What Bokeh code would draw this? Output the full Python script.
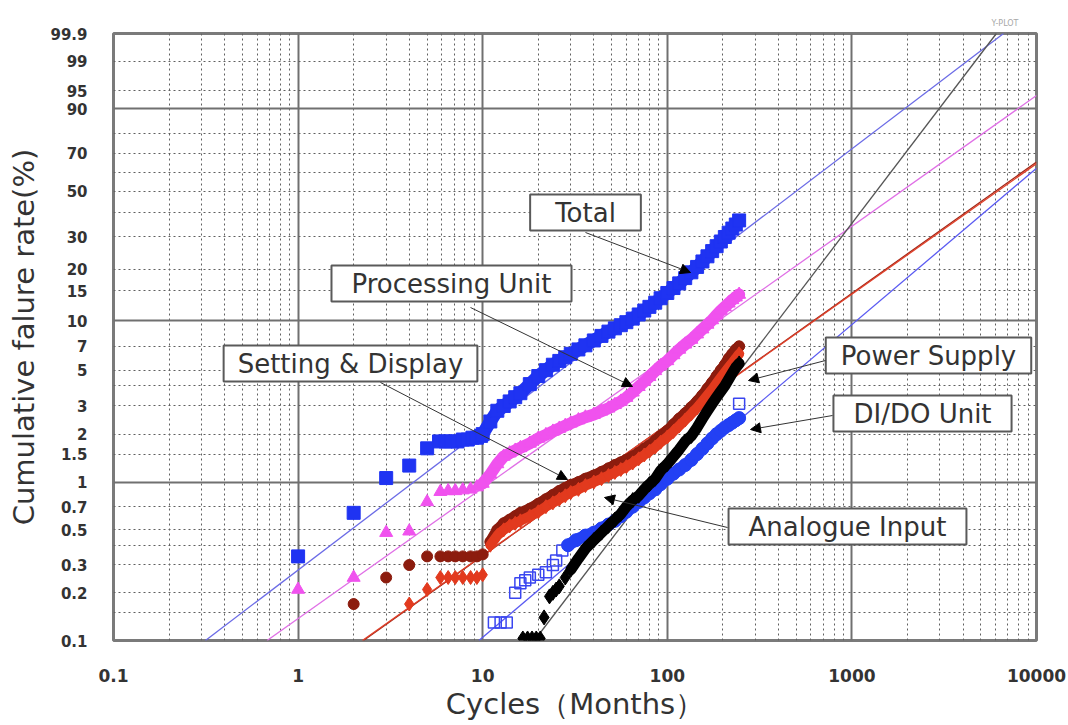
import numpy as np
from bokeh.plotting import figure
from bokeh.models import Range1d, FixedTicker, CustomJSTickFormatter, Grid, Label, Arrow, NormalHead
from bokeh.embed import file_html
from bokeh.resources import INLINE

# ---------------- data: cycles (months) and cumulative failure rate (%) ----------------
total_months = [1, 2, 3, 4, 5, 5.8, 6.3, 6.8, 7.3, 7.8, 8.3, 8.8, 9.3, 9.8, 10, 11, 12, 13, 14, 15, 16,
                18, 20, 22, 24, 26, 28, 30, 33, 36, 40, 44, 48, 52, 56, 60, 65, 70, 75, 80, 86, 92, 100,
                108, 116, 125, 135, 145, 155, 165, 175, 185, 195, 205, 215, 225, 235, 245]
total_pct = [0.34, 0.64, 1.06, 1.27, 1.63, 1.8, 1.8, 1.8, 1.8, 1.85, 1.85, 1.9, 1.9, 1.95, 2.0, 2.4, 2.8, 3.0, 3.2, 3.4, 3.6,
             4.1, 4.6, 5.0, 5.4, 5.7, 6.0, 6.3, 6.7, 7.1, 7.6, 8.1, 8.6, 9.0, 9.4, 9.8, 10.3, 10.9, 11.5, 12.1, 12.8, 13.6, 14.6,
             15.6, 16.6, 17.8, 19.2, 20.6, 22.1, 23.6, 25.2, 26.8, 28.4, 30.0, 31.6, 33.2, 34.8, 36.5]

proc_months = [1, 2, 3, 4, 5, 5.9, 6.5, 7.1, 7.8, 8.6, 9.3, 10, 11, 12, 13, 14, 15, 16,
               18, 20, 22, 24, 26, 28, 30, 33, 36, 40, 44, 48, 52, 56, 60, 65, 70, 75, 80, 86, 92, 100,
               108, 116, 125, 135, 145, 155, 165, 175, 185, 195, 205, 215, 225, 235, 245]
proc_pct = [0.21, 0.25, 0.48, 0.49, 0.75, 0.87, 0.88, 0.88, 0.89, 0.9, 0.93, 0.98, 1.12, 1.3, 1.45, 1.52, 1.58, 1.64,
            1.75, 1.88, 1.98, 2.08, 2.17, 2.26, 2.34, 2.45, 2.55, 2.65, 2.78, 2.9, 3.05, 3.2, 3.38,
            3.65, 3.95, 4.25, 4.55, 4.95, 5.3, 5.7, 6.2, 6.7, 7.2, 7.7, 8.3, 8.9, 9.5, 10.1, 10.8, 11.5,
            12.1, 12.7, 13.3, 13.8, 14.3]

setdisp_months = [2, 3, 4, 5, 5.9, 6.5, 7.1, 7.8, 8.6, 9.3, 10, 11, 12, 13, 14, 15, 16,
                  18, 20, 22, 24, 26, 28, 30, 33, 36, 40, 44, 48, 52, 56, 60, 65, 70, 75, 80, 86, 92, 100,
                  108, 116, 125, 135, 145, 155, 165, 175, 185, 195, 205, 215, 225, 235, 245]
setdisp_pct = [0.17, 0.25, 0.30, 0.34, 0.34, 0.34, 0.34, 0.34, 0.34, 0.34, 0.35, 0.42, 0.5, 0.55, 0.58, 0.61, 0.64,
               0.68, 0.73, 0.78, 0.83, 0.88, 0.92, 0.96, 1.0, 1.05, 1.1, 1.16, 1.22, 1.28, 1.33, 1.38,
               1.45, 1.53, 1.62, 1.7, 1.82, 1.95, 2.1, 2.3, 2.5, 2.7, 2.95, 3.2, 3.5, 3.85, 4.2, 4.6, 5.0,
               5.4, 5.9, 6.3, 6.7, 7.0]

analog_months = [4, 5, 5.9, 6.5, 7.1, 7.8, 8.6, 9.3, 10, 11, 12, 13, 14, 15, 16,
                 18, 20, 22, 24, 26, 28, 30, 33, 36, 40, 44, 48, 52, 56, 60, 65, 70, 75, 80, 86, 92, 100,
                 108, 116, 125, 135, 145, 155, 165, 175, 185, 195, 205, 215, 225, 235, 245]
analog_pct = [0.17, 0.21, 0.25, 0.25, 0.25, 0.25, 0.25, 0.25, 0.26, 0.4, 0.46, 0.5, 0.53, 0.55, 0.57,
              0.61, 0.65, 0.7, 0.74, 0.78, 0.82, 0.86, 0.9, 0.95, 1.0, 1.05, 1.1, 1.15, 1.2, 1.25,
              1.32, 1.4, 1.48, 1.56, 1.66, 1.78, 1.92, 2.08, 2.25, 2.45, 2.68, 2.92, 3.2, 3.5, 3.8, 4.15, 4.5,
              4.85, 5.2, 5.55, 5.9, 6.3]

power_months = [16.5, 17.5, 18.5, 19.5, 20.5, 21.5, 23, 24, 25, 26, 28, 30, 33, 36, 40, 44, 48, 52, 56, 60,
                65, 70, 75, 80, 86, 92, 100, 108, 116, 125, 135, 145, 155, 165, 175, 185, 195,
                205, 215, 225, 235, 245]
power_pct = [0.103, 0.103, 0.103, 0.103, 0.103, 0.14, 0.19, 0.2, 0.21, 0.22, 0.25, 0.28, 0.33, 0.38, 0.43, 0.48,
             0.53, 0.58, 0.63, 0.7, 0.77, 0.82, 0.9, 0.97, 1.05, 1.18, 1.3, 1.45, 1.6, 1.8, 1.95, 2.2, 2.5,
             2.8, 3.1, 3.4, 3.7, 4.0, 4.4, 4.8, 5.2, 5.5]

dido_open_months = [11.5, 12.5, 13.5, 15, 16, 17, 18, 20, 22, 24, 25, 27, 245]
dido_open_pct = [0.13, 0.13, 0.13, 0.2, 0.23, 0.24, 0.25, 0.26, 0.27, 0.3, 0.32, 0.37, 3.1]
dido_months = [29, 32, 36, 40, 44, 48, 52, 56, 60, 65, 70, 75, 80, 86, 92, 100,
               108, 116, 125, 135, 145, 155, 165, 175, 185, 195, 205, 215, 225, 235, 245]
dido_pct = [0.4, 0.43, 0.46, 0.48, 0.51, 0.54, 0.57, 0.61, 0.65, 0.7, 0.75, 0.8, 0.85, 0.9, 0.97, 1.05,
            1.13, 1.2, 1.28, 1.38, 1.5, 1.62, 1.75, 1.88, 2.0, 2.1, 2.2, 2.28, 2.36, 2.44, 2.52]

# Weibull fit lines (shape beta, scale eta in months)
fit_names = ["Total", "Processing Unit", "Setting & Display", "Analogue Input", "Power Supply", "DI/DO Unit"]
fit_beta = [0.888, 0.827, 0.830, 0.826, 1.534, 0.989]
fit_eta = [752, 2880, 9300, 9550, 1720, 10300]

# axis ticks
x_ticks = [0.1, 1, 10, 100, 1000, 10000]
y_tick_pct = [0.1, 0.2, 0.3, 0.5, 0.7, 1, 1.5, 2, 3, 5, 7, 10, 15, 20, 30, 50, 70, 90, 95, 99, 99.9]
y_major_grid_pct = [1, 10, 90]
y_minor_grid_pct = [0.15, 0.2, 0.3, 0.4, 0.5, 0.7, 1.5, 2, 3, 4, 5, 7, 15, 20, 30, 40, 50, 60, 70, 80, 95, 99]


def weib(pct):
    return np.log(-np.log(1.0 - np.asarray(pct, dtype=float) / 100.0))


W_MIN = float(weib(0.1))
W_MAX = float(weib(99.9))

# frame geometry (pixels) used only for annotation placement
FL, FR, FT, FB = 113, 1036, 33, 640


def sx(px):
    return 10 ** (-1 + 5.0 * (px - FL) / (FR - FL))


def sy(py):
    return W_MAX - (py - FT) / (FB - FT) * (W_MAX - W_MIN)


p = figure(width=1068, height=725, x_axis_type="log",
           x_range=Range1d(0.1, 10000), y_range=Range1d(W_MIN, W_MAX),
           output_backend="svg", toolbar_location=None,
           min_border_left=FL, min_border_right=1068 - FR,
           min_border_top=FT, min_border_bottom=725 - FB,
           background_fill_color="white", border_fill_color="white")

p.title.text = "Y-PLOT"
p.title.align = "right"
p.title.offset = 18
p.title.standoff = 12
p.title.text_font = "DejaVu Sans"
p.title.text_font_size = "8px"
p.title.text_font_style = "normal"
p.title.text_color = "#a8a8a8"

p.outline_line_color = "#7a7a7a"
p.outline_line_width = 3

# x axis
x_minor = [m * 10.0 ** k for k in range(-1, 4) for m in range(2, 10)]
p.xaxis.ticker = FixedTicker(ticks=x_ticks, minor_ticks=x_minor)
p.xaxis.formatter = CustomJSTickFormatter(code="return tick < 1 ? tick.toFixed(1) : tick.toFixed(0);")
p.xgrid.ticker = p.xaxis[0].ticker
p.xgrid.grid_line_color = "#707070"
p.xgrid.grid_line_width = 2
p.xgrid.minor_grid_line_color = "#606060"
p.xgrid.minor_grid_line_dash = "2 3"
p.xgrid.minor_grid_line_width = 1

# y axis (Weibull scale)
p.yaxis.ticker = FixedTicker(ticks=[float(v) for v in weib(y_tick_pct)])
p.yaxis.formatter = CustomJSTickFormatter(
    code="const F = (1 - Math.exp(-Math.exp(tick))) * 100; return String(Math.round(F * 10) / 10);")
p.ygrid.visible = False
p.add_layout(Grid(dimension=1, ticker=FixedTicker(ticks=[float(v) for v in weib(y_major_grid_pct)]),
                  grid_line_color="#707070", grid_line_width=2))
p.add_layout(Grid(dimension=1, ticker=FixedTicker(ticks=[float(v) for v in weib(y_minor_grid_pct)]),
                  grid_line_color="#606060", grid_line_dash="2 3", grid_line_width=1))

for ax in (p.xaxis, p.yaxis):
    ax.axis_line_color = None
    ax.major_tick_line_color = None
    ax.minor_tick_line_color = None
    ax.major_label_text_font = "DejaVu Sans"
    ax.major_label_text_font_style = "bold"
    ax.major_label_text_color = "#333333"
    ax.axis_label_text_font = "DejaVu Sans"
    ax.axis_label_text_font_style = "normal"
    ax.axis_label_text_color = "#333333"

p.xaxis.major_label_text_font_size = "17px"
p.yaxis.major_label_text_font_size = "15px"
p.xaxis.major_label_standoff = 22
p.yaxis.major_label_standoff = 20
p.xaxis.axis_label = "Cycles（Months）"
p.yaxis.axis_label = "Cumulative falure rate(%)"
p.xaxis.axis_label_text_font_size = "29px"
p.yaxis.axis_label_text_font_size = "29px"
p.xaxis.axis_label_standoff = 2
p.yaxis.axis_label_standoff = 6

# fit lines
fit_colors = ["#6b6be6", "#e070e6", "#a02818", "#e0402a", "#555555", "#5a5af2"]
for beta, eta, col in zip(fit_beta, fit_eta, fit_colors):
    x0 = max(0.1, eta * np.exp(W_MIN / beta))
    x1 = min(10000.0, eta * np.exp(W_MAX / beta))
    xs = np.array([x0, x1])
    ys = beta * (np.log(xs) - np.log(eta))
    p.line(xs, ys, line_color=col, line_width=1.3)


def band(months, pct, start, color, width):
    m = np.asarray(months, dtype=float)
    keep = m >= start
    p.line(m[keep], weib(np.asarray(pct)[keep]), line_color=color, line_width=width,
           line_join="round", line_cap="round")


# data: dense bands + markers
band(total_months, total_pct, 10, "#1f33f2", 13)
p.scatter(total_months, weib(total_pct), marker="square", size=13, color="#1f33f2")

band(proc_months, proc_pct, 10, "#f052ee", 12)
p.scatter(proc_months, weib(proc_pct), marker="triangle", size=13, color="#f052ee")

band(setdisp_months, setdisp_pct, 11, "#8c1c0e", 11)
p.scatter(setdisp_months, weib(setdisp_pct), marker="circle", size=11, color="#8c1c0e")

band(analog_months, analog_pct, 11, "#e23a1e", 10)
p.scatter(analog_months, weib(analog_pct), marker="diamond", size=14, color="#e23a1e")

p.scatter(dido_open_months, weib(dido_open_pct), marker="square", size=11,
          line_color="#3a46f0", fill_color=None, line_width=1.5)
band(dido_months, dido_pct, 29, "#2340f4", 12)
p.scatter(dido_months, weib(dido_pct), marker="circle", size=13, color="#2340f4")

band(power_months, power_pct, 30, "black", 11)
p.scatter(power_months, weib(power_pct), marker="diamond", size=15, color="black")

# label boxes: (text, center px x, center px y, horizontal padding)
boxes = [("Total", 585, 212, 25), ("Processing Unit", 451, 283, 20),
         ("Setting & Display", 350, 363, 14), ("Power Supply", 928, 355, 15),
         ("DI/DO Unit", 922, 413, 20), ("Analogue Input", 847, 526, 20)]
for text, cx, cy, ph in boxes:
    p.add_layout(Label(x=sx(cx), y=sy(cy), text=text, text_align="center", text_baseline="middle",
                       text_font="DejaVu Sans", text_font_size="26px", text_color="#333333",
                       background_fill_color="white", border_line_color="#5a5a5a",
                       border_line_width=2, padding=(ph, 3)))

# arrows: start px -> tip px
arrows = [(585, 232, 690, 272), (470, 307, 632, 386), (380, 382, 567, 479),
          (825, 360, 748, 380), (832, 415, 750, 429), (727, 527, 604, 497)]
for x0, y0, x1, y1 in arrows:
    p.add_layout(Arrow(end=NormalHead(size=10, fill_color="black", line_color="black"),
                       x_start=sx(x0), y_start=sy(y0), x_end=sx(x1), y_end=sy(y1),
                       line_color="#333333", line_width=1))

open("out.html", "w").write(file_html(p, INLINE))
